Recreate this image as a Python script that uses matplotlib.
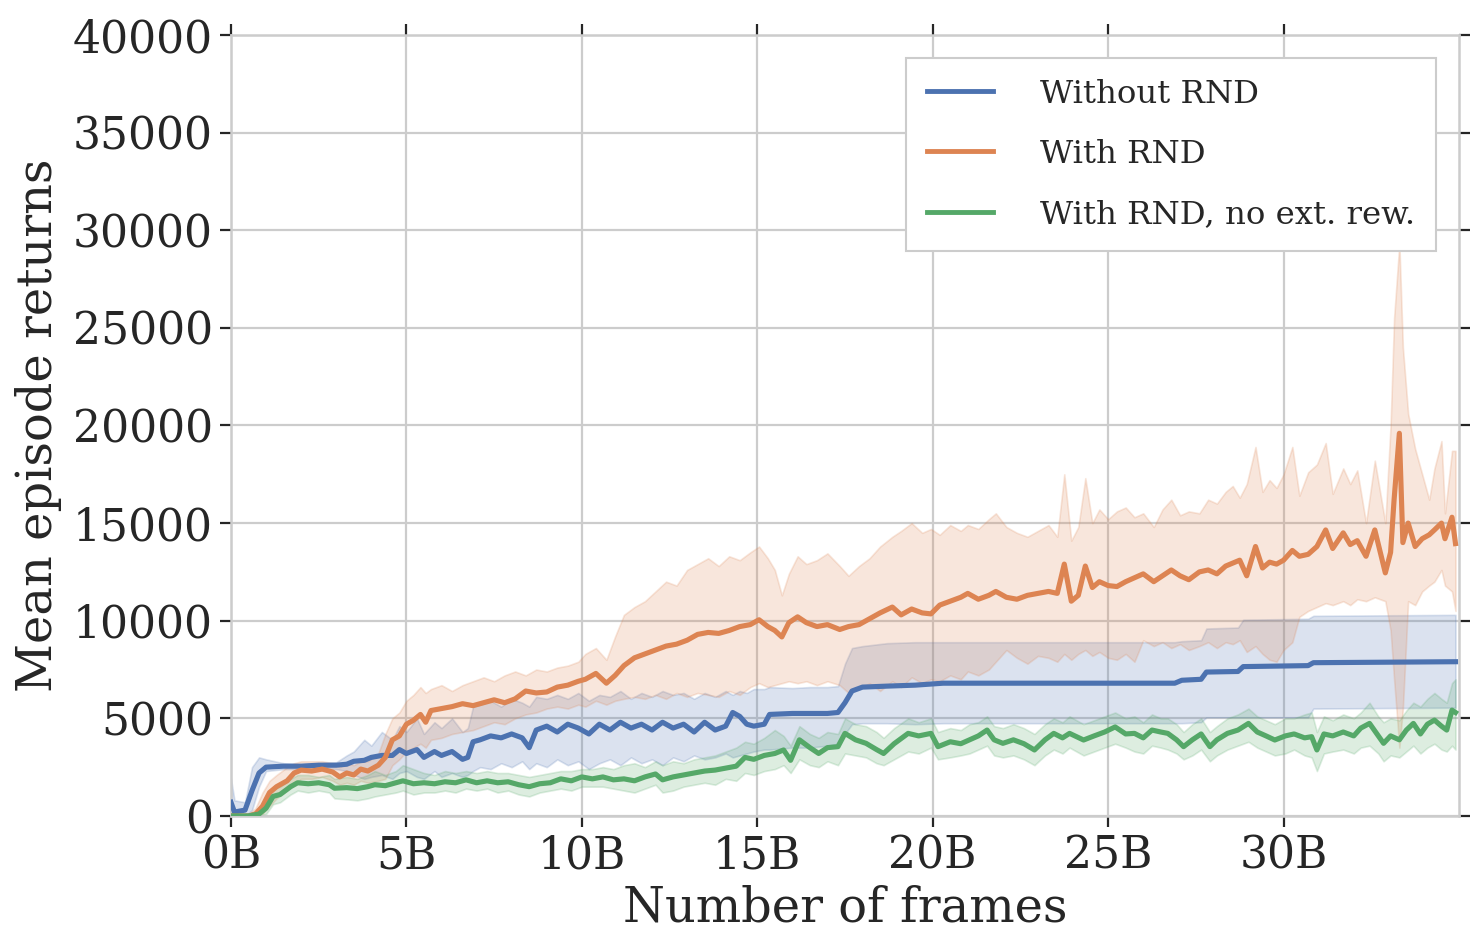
import matplotlib
matplotlib.use("Agg")
import matplotlib.pyplot as plt
from matplotlib.ticker import FuncFormatter

# ---------------- data (x in billions of frames) ----------------
blue_x = [0.0, 0.1, 0.4, 0.6, 0.8, 1.0, 1.5, 2.0, 2.5, 3.0, 3.3, 3.5, 3.8, 4.0, 4.3, 4.6, 4.8, 5.0,
          5.3, 5.5, 5.8, 6.0, 6.3, 6.6, 6.75, 6.9, 7.1, 7.4, 7.7, 8.0, 8.3, 8.5, 8.7, 9.0, 9.3, 9.6,
          9.9, 10.2, 10.5, 10.8, 11.1, 11.4, 11.7, 12.0, 12.3, 12.6, 12.9, 13.2, 13.5, 13.8, 14.1,
          14.3, 14.5, 14.7, 14.9, 15.2, 15.35, 16.0, 16.5, 17.0, 17.3, 17.5, 17.7, 18.0, 18.7, 19.5,
          20.3, 26.9, 27.1, 27.65, 27.8, 28.7, 28.85, 30.7, 30.85, 34.9]
blue_mean = [700, 200, 300, 1300, 2200, 2500, 2550, 2550, 2600, 2600, 2650, 2800, 2850, 3000, 3100,
             3100, 3400, 3200, 3400, 3000, 3300, 3100, 3300, 2900, 3000, 3800, 3900, 4100, 4000, 4200,
             4000, 3500, 4400, 4600, 4300, 4700, 4500, 4200, 4700, 4400, 4800, 4500, 4700, 4400, 4800,
             4500, 4700, 4300, 4800, 4400, 4600, 5300, 5100, 4700, 4600, 4700, 5200, 5250, 5250, 5250,
             5300, 5800, 6400, 6600, 6650, 6700, 6800, 6800, 6950, 7000, 7370, 7400, 7650, 7700, 7850,
             7900]
blue_lo = [0, 0, 0, 300, 1500, 2300, 2400, 2400, 2450, 2400, 2300, 2100, 1900, 2000, 2100, 1900, 2200,
           2300, 2000, 1900, 2300, 2000, 2200, 2000, 2100, 2300, 2500, 2400, 2700, 2500, 2800, 2400,
           2700, 2500, 2900, 2600, 2800, 2400, 2700, 2900, 2600, 3000, 2700, 2900, 2600, 3000, 2800,
           3100, 2900, 3000, 3200, 3000, 3100, 3200, 3300, 3400, 3400, 3500, 3500, 3600, 3700, 4200,
           4700, 4750, 4750, 4700, 4750, 4750, 4750, 4800, 5050, 5050, 5050, 5050, 5500, 5550]
blue_hi = [1900, 800, 700, 2500, 3000, 2900, 2700, 2650, 2700, 2750, 3100, 3300, 3900, 3600, 4300,
           3900, 4600, 4300, 5000, 4200, 4800, 4500, 5000, 4300, 4500, 5600, 5700, 5900, 5600, 6000,
           5800, 5600, 6100, 6000, 6200, 6000, 6300, 5900, 6200, 6100, 6400, 6000, 6300, 6100, 6400,
           6200, 6300, 6000, 6300, 6100, 6400, 6200, 6400, 6300, 6500, 6500, 6600, 6550, 6600, 6600,
           6650, 7800, 8600, 8700, 8850, 8900, 8900, 8900, 8950, 9000, 9600, 9650, 10050, 10100, 10250,
           10300]

orange_x = [0.0, 0.5, 0.7, 0.9, 1.1, 1.3, 1.6, 1.8, 2.0, 2.3, 2.6, 2.9, 3.1, 3.3, 3.5, 3.7, 3.9, 4.2,
            4.4, 4.6, 4.8, 5.0, 5.2, 5.4, 5.55, 5.7, 6.0, 6.3, 6.6, 6.9, 7.2, 7.5, 7.8, 8.1, 8.4, 8.7,
            9.0, 9.3, 9.6, 9.9, 10.1, 10.4, 10.7, 10.95, 11.2, 11.5, 11.8, 12.1, 12.4, 12.7, 13.0,
            13.3, 13.6, 13.9, 14.2, 14.5, 14.8, 15.05, 15.3, 15.5, 15.7, 15.9, 16.15, 16.4, 16.7, 17.0,
            17.35, 17.6, 17.9, 18.2, 18.5, 18.85, 19.1, 19.4, 19.7, 19.95, 20.2, 20.5, 20.8, 21.0,
            21.3, 21.6, 21.8, 22.1, 22.4, 22.7, 23.0, 23.3, 23.55, 23.75, 23.95, 24.15, 24.35, 24.55,
            24.75, 25.0, 25.25, 25.5, 25.75, 26.0, 26.3, 26.55, 26.8, 27.05, 27.3, 27.6, 27.85, 28.1,
            28.35, 28.55, 28.75, 28.95, 29.2, 29.4, 29.6, 29.8, 30.0, 30.25, 30.45, 30.7, 30.95, 31.2,
            31.4, 31.7, 31.9, 32.1, 32.35, 32.6, 32.9, 33.05, 33.15, 33.3, 33.4, 33.55, 33.75, 33.95,
            34.15, 34.3, 34.5, 34.6, 34.8, 34.9]
orange_mean = [0, 0, 100, 500, 1200, 1500, 1800, 2200, 2350, 2300, 2400, 2250, 2000, 2200, 2100, 2400,
               2300, 2600, 3000, 3900, 4100, 4700, 4900, 5200, 4800, 5400, 5500, 5600, 5750, 5650, 5800,
               5950, 5800, 6000, 6400, 6300, 6350, 6600, 6700, 6900, 7000, 7300, 6800, 7200, 7700, 8100,
               8300, 8500, 8700, 8800, 9000, 9300, 9400, 9350, 9500, 9700, 9800, 10050, 9700, 9500,
               9170, 9900, 10200, 9900, 9700, 9800, 9550, 9700, 9800, 10100, 10400, 10700, 10300, 10600,
               10400, 10350, 10800, 11000, 11200, 11400, 11100, 11300, 11500, 11200, 11100, 11300, 11400,
               11500, 11400, 12900, 11000, 11300, 12800, 11700, 12000, 11800, 11750, 12000, 12200, 12400,
               12000, 12300, 12600, 12300, 12100, 12500, 12600, 12400, 12800, 12950, 13100, 12300, 13800,
               12700, 13000, 12900, 13100, 13600, 13300, 13400, 13800, 14650, 13700, 14500, 13900, 14100,
               13300, 14650, 12450, 13500, 16200, 19600, 14000, 15000, 13800, 14200, 14400, 14650, 15000,
               14200, 15300, 13950]
orange_lo = [0, 0, 0, 100, 500, 900, 1300, 1600, 1900, 1900, 2000, 1800, 1600, 1700, 1600, 1800, 1700,
             1800, 1900, 2600, 2900, 3300, 3500, 3700, 3500, 3900, 4000, 4200, 4300, 4400, 4600, 4800,
             4700, 5000, 5200, 5300, 5500, 5600, 5500, 5700, 5600, 5900, 5700, 5900, 6000, 6100, 6000,
             6200, 6000, 6300, 6100, 6300, 6200, 6100, 6400, 6200, 6600, 6800, 6600, 6700, 6800, 6900,
             6800, 6900, 6700, 6900, 6700, 6300, 6500, 6800, 6400, 6900, 6600, 7100, 6800, 7000, 6900,
             7200, 7000, 7400, 7200, 7500, 7900, 8500, 8100, 7800, 8200, 8100, 7900, 8300, 8000, 8300,
             8500, 8200, 8400, 8100, 8000, 8300, 7900, 9000, 8700, 8900, 8600, 8800, 8500, 8700, 8900,
             8600, 8900, 8800, 9000, 8400, 8700, 8300, 8000, 7900, 8500, 8900, 10200, 10500, 10700,
             10900, 10800, 11000, 10800, 11100, 11000, 11200, 11000, 9500, 7000, 3500, 5500, 11000,
             10800, 11500, 11800, 12000, 12600, 11800, 11500, 10500]
orange_hi = [0, 100, 400, 1200, 1800, 2100, 2500, 2700, 2800, 2800, 2800, 2700, 2500, 2700, 2600, 2800,
             2800, 3200, 4200, 5000, 5300, 5900, 6200, 6600, 6300, 6500, 6700, 6400, 6700, 6900, 7100,
             6900, 7200, 7400, 7200, 7500, 7400, 7600, 7700, 7900, 8300, 8600, 8000, 9200, 10300, 10700,
             11000, 11500, 12000, 11800, 12600, 12900, 13200, 12800, 13300, 13100, 13500, 13800, 13200,
             12600, 11300, 12400, 13300, 12900, 13100, 13450, 12800, 12300, 12800, 13200, 13800, 14300,
             14600, 15000, 14500, 14700, 14400, 14900, 14600, 14900, 14700, 15200, 15500, 14800, 14500,
             14300, 14600, 14900, 14300, 17500, 14100, 14800, 17300, 15000, 15700, 15200, 15600, 15800,
             15300, 15500, 14800, 15700, 16200, 15400, 15600, 15500, 16200, 16000, 16600, 16900, 16300,
             17000, 18900, 16600, 17200, 16800, 17500, 18900, 16400, 17600, 18000, 19100, 16500, 17800,
             17000, 17700, 15000, 18200, 15000, 20000, 25500, 29300, 24000, 20600, 18800, 17500, 16200,
             17800, 19200, 15500, 18700, 18700]

green_x = [0.0, 0.5, 0.8, 1.0, 1.2, 1.4, 1.7, 1.9, 2.2, 2.5, 2.8, 2.95, 3.3, 3.6, 3.9, 4.1, 4.4, 4.7,
           4.9, 5.2, 5.5, 5.8, 6.1, 6.4, 6.7, 7.0, 7.3, 7.6, 7.9, 8.2, 8.5, 8.8, 9.1, 9.4, 9.7, 10.0,
           10.3, 10.6, 10.9, 11.2, 11.5, 11.8, 12.1, 12.3, 12.6, 12.9, 13.2, 13.5, 13.8, 14.1, 14.4,
           14.65, 14.9, 15.2, 15.5, 15.75, 15.95, 16.2, 16.5, 16.75, 17.0, 17.3, 17.5, 17.8, 18.1, 18.4,
           18.6, 18.9, 19.3, 19.6, 19.95, 20.15, 20.5, 20.8, 21.05, 21.3, 21.55, 21.75, 22.0, 22.3,
           22.6, 22.9, 23.2, 23.45, 23.7, 23.9, 24.3, 24.6, 24.9, 25.2, 25.5, 25.75, 26.0, 26.25, 26.5,
           26.7, 26.95, 27.15, 27.4, 27.65, 27.9, 28.1, 28.4, 28.7, 29.0, 29.25, 29.5, 29.75, 30.05,
           30.3, 30.6, 30.8, 30.95, 31.15, 31.4, 31.7, 32.0, 32.2, 32.45, 32.7, 32.85, 33.05, 33.3,
           33.5, 33.7, 33.9, 34.1, 34.3, 34.5, 34.65, 34.8, 34.9]
green_mean = [0, 0, 100, 400, 1000, 1100, 1500, 1700, 1650, 1700, 1600, 1420, 1450, 1400, 1500, 1600,
              1550, 1700, 1800, 1650, 1700, 1650, 1750, 1700, 1850, 1700, 1800, 1700, 1750, 1600, 1500,
              1650, 1700, 1900, 1800, 2000, 1900, 2000, 1850, 1900, 1800, 2000, 2150, 1850, 2000, 2100,
              2200, 2300, 2350, 2450, 2550, 3000, 2900, 3100, 3200, 3380, 2850, 3900, 3500, 3200, 3500,
              3550, 4230, 3900, 3720, 3400, 3200, 3700, 4230, 4100, 4230, 3550, 3800, 3700, 3900, 4100,
              4400, 3900, 3720, 3900, 3700, 3380, 3900, 4230, 4000, 4230, 3890, 4100, 4300, 4560, 4200,
              4230, 4000, 4400, 4300, 4230, 3900, 3550, 3900, 4200, 3550, 3900, 4230, 4400, 4740, 4300,
              4100, 3890, 4100, 4200, 4000, 4060, 3380, 4200, 4100, 4300, 4100, 4500, 4740, 4100, 3720,
              4100, 3900, 4400, 4740, 4200, 4700, 4910, 4600, 4400, 5420, 5300]
green_lo = [0, 0, 0, 100, 600, 700, 1100, 1300, 1200, 1300, 1200, 900, 850, 800, 900, 1000, 1100, 1200,
            1300, 1100, 1200, 1200, 1300, 1200, 1400, 1300, 1400, 1200, 1300, 1100, 1000, 1200, 1300,
            1400, 1300, 1500, 1500, 1500, 1400, 1300, 1200, 1400, 1600, 1200, 1300, 1500, 1600, 1700,
            1600, 1900, 1800, 2200, 2100, 2300, 2400, 2600, 2200, 2900, 2600, 2500, 2800, 2600, 3200,
            3100, 3000, 2700, 2600, 2900, 3300, 3200, 3500, 2900, 3000, 3100, 3200, 3400, 3600, 3100,
            3000, 3100, 2900, 2600, 3100, 3400, 3200, 3500, 3100, 3300, 3500, 3700, 3500, 3300, 3200,
            3600, 3500, 3400, 3200, 2900, 3100, 3400, 2800, 3100, 3400, 3600, 3800, 3500, 3300, 3100,
            3200, 3400, 3100, 3000, 2300, 3200, 3300, 3400, 3200, 3500, 3600, 3200, 2800, 3100, 3000,
            3300, 3600, 3200, 3500, 3700, 3400, 3300, 3600, 3400]
green_hi = [0, 100, 300, 700, 1400, 1500, 1900, 2100, 2100, 2000, 2100, 1900, 2000, 1900, 2100, 2300,
            2100, 2300, 2600, 2400, 2200, 2100, 2300, 2200, 2300, 2200, 2300, 2200, 2200, 2100, 2000,
            2100, 2200, 2300, 2300, 2400, 2400, 2500, 2400, 2600, 2700, 2500, 2800, 2600, 2800, 2700,
            2900, 3000, 3100, 3300, 3500, 3800, 3700, 4000, 4400, 4100, 3600, 4600, 4200, 4000, 4300,
            4200, 5000, 4700, 4600, 4300, 4000, 4500, 5000, 4800, 5000, 4300, 4500, 4400, 4700, 4800,
            5100, 4600, 4500, 4700, 4500, 4200, 4700, 5000, 4800, 5100, 4700, 4900, 5100, 5300, 5000,
            5100, 4800, 5200, 5000, 5000, 4700, 4300, 4700, 5000, 4300, 4600, 5000, 5200, 5500, 5100,
            4900, 4700, 5000, 5000, 5200, 5300, 4300, 5100, 4900, 5200, 5000, 5300, 5800, 5100, 4800,
            5000, 4900, 5400, 5800, 5600, 6000, 6300, 6000, 5800, 6800, 7000]

labels = ["Without RND", "With RND", "With RND, no ext. rew."]
colors = ["#4C72B0", "#DD8452", "#55A868"]
x_ticks = [0, 5, 10, 15, 20, 25, 30]
y_ticks = [0, 5000, 10000, 15000, 20000, 25000, 30000, 35000, 40000]

# ---------------- style ----------------
plt.rcParams["font.family"] = ["DejaVu Serif"]
text_color = "#262626"
plt.rcParams.update({
    "text.color": text_color,
    "axes.labelcolor": text_color,
    "xtick.color": text_color,
    "ytick.color": text_color,
})

fig = plt.figure(figsize=(14.73, 9.51), dpi=100)
ax = fig.add_axes([0.1568, 0.1420, 0.8337, 0.8212])

series = [
    (blue_x, blue_mean, blue_lo, blue_hi),
    (orange_x, orange_mean, orange_lo, orange_hi),
    (green_x, green_mean, green_lo, green_hi),
]
for (xs, m, lo, hi), lab, c in zip(series, labels, colors):
    ax.fill_between(xs, lo, hi, facecolor=c, edgecolor=c, alpha=0.2, linewidth=1.2, zorder=2)
for (xs, m, lo, hi), lab, c in zip(series, labels, colors):
    ax.plot(xs, m, color=c, lw=3.7, label=lab, zorder=3)

ax.set_xlim(0, 35)
ax.set_ylim(0, 40000)
ax.set_xticks(x_ticks)
ax.xaxis.set_major_formatter(FuncFormatter(lambda v, p: f"{int(v)}B"))
ax.set_yticks(y_ticks)
ax.yaxis.set_major_formatter(FuncFormatter(lambda v, p: f"{int(v)}"))

ax.grid(True, color="#cccccc", lw=1.6, zorder=0)
ax.set_axisbelow(True)
for s in ax.spines.values():
    s.set_color("#cccccc")
    s.set_linewidth(1.8)

ax.tick_params(axis="both", which="major", direction="out", length=8, width=1.6,
               labelsize=31.8, top=True, right=True, bottom=True, left=True,
               labeltop=False, labelright=False)
ax.tick_params(axis="y", pad=5)
ax.tick_params(axis="x", pad=5)

ax.set_xlabel("Number of frames", fontsize=34.5, labelpad=5)
ax.set_ylabel("Mean episode returns", fontsize=34.5, labelpad=8)

leg = ax.legend(loc="upper right", fontsize=23.3, frameon=True, fancybox=False,
                handlelength=2.05, handletextpad=1.45, labelspacing=0.9,
                borderpad=0.65, borderaxespad=0.7, framealpha=1.0)
leg.get_frame().set_edgecolor("#cccccc")
leg.get_frame().set_linewidth(1.5)
for h in leg.get_lines():
    h.set_linewidth(3.5)

fig.savefig("out.png", dpi=100)
